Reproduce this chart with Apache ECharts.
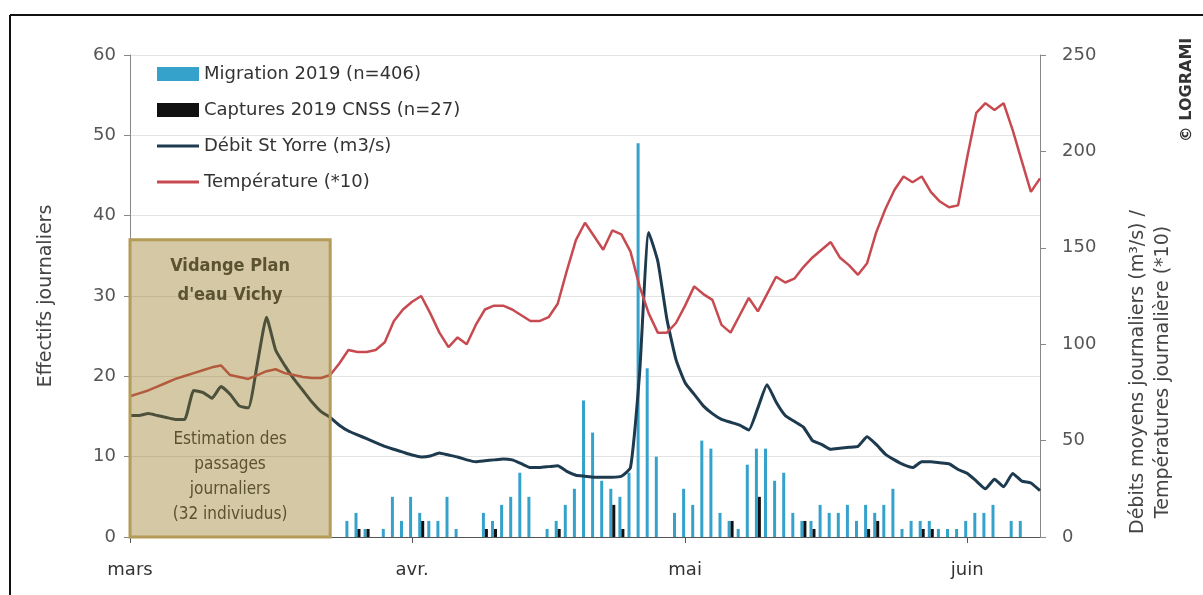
<!DOCTYPE html>
<html>
<head>
<meta charset="utf-8">
<script src="https://cdn.jsdelivr.net/npm/echarts@6/dist/echarts.min.js"></script>
<style>
  html, body { margin: 0; padding: 0; background: #fff; }
  #chart { width: 1203px; height: 595px; }
</style>
</head>
<body>
<div id="chart"></div>
<script>
// daily values from 1 March to 9 June 2019
var startDate = '2019-03-01';
var nbDays = 101;
var monthNames = {'03': 'mars', '04': 'avr.', '05': 'mai', '06': 'juin'};

var migration = [0,0,0,0,0,0,0,0,0,0, 0,0,0,0,0,0,0,0,0,0,
    0,0,0,0,2,3,1,0,1,5, 2,5,3,2,2,5,1,0,0,3,
    2,4,5,8,5,0,1,2,4,6, 17,13,7,6,5,8,49,21,10,0,
    3,6,4,12,11,3,2,1,9,11, 11,7,8,3,2,2,4,3,3,4,
    2,4,3,4,6,1,2,2,2,1, 1,1,2,3,3,4,0,2,2,0, 0];
var captures = [0,0,0,0,0,0,0,0,0,0, 0,0,0,0,0,0,0,0,0,0,
    0,0,0,0,0,1,1,0,0,0, 0,0,2,0,0,0,0,0,0,1,
    1,0,0,0,0,0,0,1,0,0, 0,0,0,4,1,0,0,0,0,0,
    0,0,0,0,0,0,2,0,0,5, 0,0,0,0,2,1,0,0,0,0,
    0,1,2,0,0,0,0,1,1,0, 0,0,0,0,0,0,0,0,0,0, 0];
var debit = [63,63,64,63,62,61,61,76,75,72, 78,74,68,67,90,114,97,89,82,76,
    70,65,62,58,55,53,51,49,47,45.5, 44,42.5,41.5,42,43.6,42.5,41.5,40,39,39.5,
    40,40.5,40,38,36,36,36.5,37,34,32, 31.5,31,31,31,31.5,36,85,158,143,113,
    92,80,74,68,64,61,59.5,58,55.5,67, 79,70,63,60,57,50,48,45.5,46,46.5,
    47,52,48,43,40,37.5,36,39,39,38.5, 38,35,33,29,25,30,26,33,29,28, 24];
var temperature = [73,74.5,76,78,80,82,83.5,85,86.5,88, 89,84,83,82,84,86,87,85,84,83,
    82.5,82.5,84,90,97,96,96,97,101,112, 118,122,125,116,106,98.5,103.5,100,110,118,
    120,120,118,115,112,112,114,121,138,154, 163,156,149,159,157,148,130,116,106,106,
    111,120,130,126,123,110,106,115,124,117, 126,135,132,134,140,145,149,153,145,141,
    136,142,158,170,180,187,184,187,179,174, 171,172,197,220,225,221.5,225,211,195,179, 186];

var boxEnd = 22;      // fin de la période "Vidange Plan d'eau Vichy"
var boxTop = 37;

var days = [];
var d0 = new Date(startDate + 'T00:00:00Z');
for (var i = 0; i < nbDays; i++) {
    var d = new Date(d0.getTime() + i * 86400000);
    days.push(d.toISOString().slice(0, 10));
}
function isMonthStart(i, v) { return v.slice(8, 10) === '01'; }

var FONT = 'DejaVu Sans';
var lineIcon = 'path://M0,0L42,0L42,3L0,3Z';
var myChart = echarts.init(document.getElementById('chart'));
var option = {
    backgroundColor: '#fff',
    textStyle: {fontFamily: FONT},
    animation: false,
    grid: {left: 130, right: 163, top: 55, bottom: 58},
    legend: {
        orient: 'vertical',
        left: 157,
        top: 65,
        itemGap: 18,
        itemWidth: 42,
        itemHeight: 14,
        padding: 0,
        textStyle: {fontSize: 18, color: '#333', fontFamily: FONT},
        data: [
            {name: 'Migration 2019 (n=406)', icon: 'rect'},
            {name: 'Captures 2019 CNSS (n=27)', icon: 'rect'},
            {name: 'Débit St Yorre (m3/s)', icon: lineIcon},
            {name: 'Température (*10)', icon: lineIcon}
        ]
    },
    xAxis: {
        type: 'category',
        data: days,
        boundaryGap: false,
        axisLine: {lineStyle: {color: '#555', width: 1}},
        axisTick: {show: true, interval: isMonthStart, length: 6, lineStyle: {color: '#555'}},
        axisLabel: {
            interval: isMonthStart,
            formatter: function (v) { return monthNames[v.slice(5, 7)]; },
            margin: 24,
            fontSize: 18,
            color: '#333'
        },
        splitLine: {show: false}
    },
    yAxis: [
        {
            type: 'value',
            min: 0, max: 60, interval: 10,
            name: 'Effectifs journaliers',
            nameLocation: 'middle',
            nameGap: 74,
            nameTextStyle: {fontSize: 19, color: '#444'},
            axisLine: {show: true, lineStyle: {color: '#888'}},
            axisTick: {show: true, length: 6, lineStyle: {color: '#888'}},
            axisLabel: {margin: 14, fontSize: 18, color: '#555'},
            splitLine: {lineStyle: {color: '#e3e3e3'}}
        },
        {
            type: 'value',
            min: 0, max: 250, interval: 50,
            position: 'right',
            axisLine: {show: true, lineStyle: {color: '#888'}},
            axisTick: {show: true, length: 6, lineStyle: {color: '#888'}},
            axisLabel: {margin: 22, fontSize: 18, color: '#555'},
            splitLine: {show: false}
        }
    ],
    graphic: [
        {type: 'line', shape: {x1: 10, y1: 15, x2: 1203, y2: 15}, style: {stroke: '#111', lineWidth: 2}},
        {type: 'line', shape: {x1: 10, y1: 15, x2: 10, y2: 595}, style: {stroke: '#111', lineWidth: 2}},
        {
            type: 'text', x: 1151, y: 372, rotation: Math.PI / 2,
            style: {
                text: 'Débits moyens journaliers (m³/s) /\nTempératures journalière (*10)',
                fontSize: 19, lineHeight: 25, fill: '#444', fontFamily: FONT,
                align: 'center', verticalAlign: 'middle'
            }
        },
        {
            type: 'text', x: 1187, y: 90, rotation: Math.PI / 2,
            style: {
                text: '© LOGRAMI', fontSize: 16, fontWeight: 'bold', fill: '#333', fontFamily: FONT,
                align: 'center', verticalAlign: 'middle'
            }
        }
    ],
    series: [
        {
            name: 'Migration 2019 (n=406)',
            type: 'bar',
            data: migration,
            barWidth: 3,
            barGap: '0%',
            itemStyle: {color: '#35a2cc'},
            z: 2
        },
        {
            name: 'Captures 2019 CNSS (n=27)',
            type: 'bar',
            data: captures,
            barWidth: 3,
            barGap: '0%',
            itemStyle: {color: '#111'},
            z: 2
        },
        {
            name: 'Débit St Yorre (m3/s)',
            type: 'line',
            yAxisIndex: 1,
            data: debit,
            symbol: 'none',
            smooth: 0.15,
            lineStyle: {color: '#1d3a4f', width: 3},
            itemStyle: {color: '#1d3a4f'},
            z: 3
        },
        {
            name: 'Température (*10)',
            type: 'line',
            yAxisIndex: 1,
            data: temperature,
            symbol: 'none',
            lineStyle: {color: '#c74a50', width: 2.5},
            itemStyle: {color: '#c74a50'},
            z: 3
        },
        {
            name: 'vidange',
            type: 'line',
            yAxisIndex: 0,
            data: [],
            z: 10,
            markArea: {
                silent: true,
                z: 10,
                itemStyle: {color: 'rgba(150,118,30,0.40)', borderColor: '#b49c58', borderWidth: 3},
                label: {
                    show: true, position: 'insideTop', distance: 14,
                    formatter: "Vidange Plan\nd'eau Vichy",
                    fontSize: 18, fontWeight: 'bold', lineHeight: 29, color: '#5a5230',
                    fontFamily: 'DejaVu Sans Condensed', align: 'center'
                },
                data: [[{xAxis: days[0], yAxis: boxTop}, {xAxis: days[boxEnd], yAxis: 0}]]
            }
        },
        {
            name: 'estimation',
            type: 'line',
            yAxisIndex: 0,
            data: [],
            z: 11,
            markArea: {
                silent: true,
                z: 11,
                itemStyle: {color: 'rgba(0,0,0,0)', borderWidth: 0},
                label: {
                    show: true, position: 'insideBottom', distance: 10,
                    formatter: 'Estimation des\npassages\njournaliers\n(32 indiviudus)',
                    fontSize: 17, lineHeight: 25, color: '#5a5230',
                    fontFamily: 'DejaVu Sans Condensed', align: 'center'
                },
                data: [[{xAxis: days[0], yAxis: boxTop}, {xAxis: days[boxEnd], yAxis: 0}]]
            }
        }
    ]
};
myChart.setOption(option);
</script>
</body>
</html>
